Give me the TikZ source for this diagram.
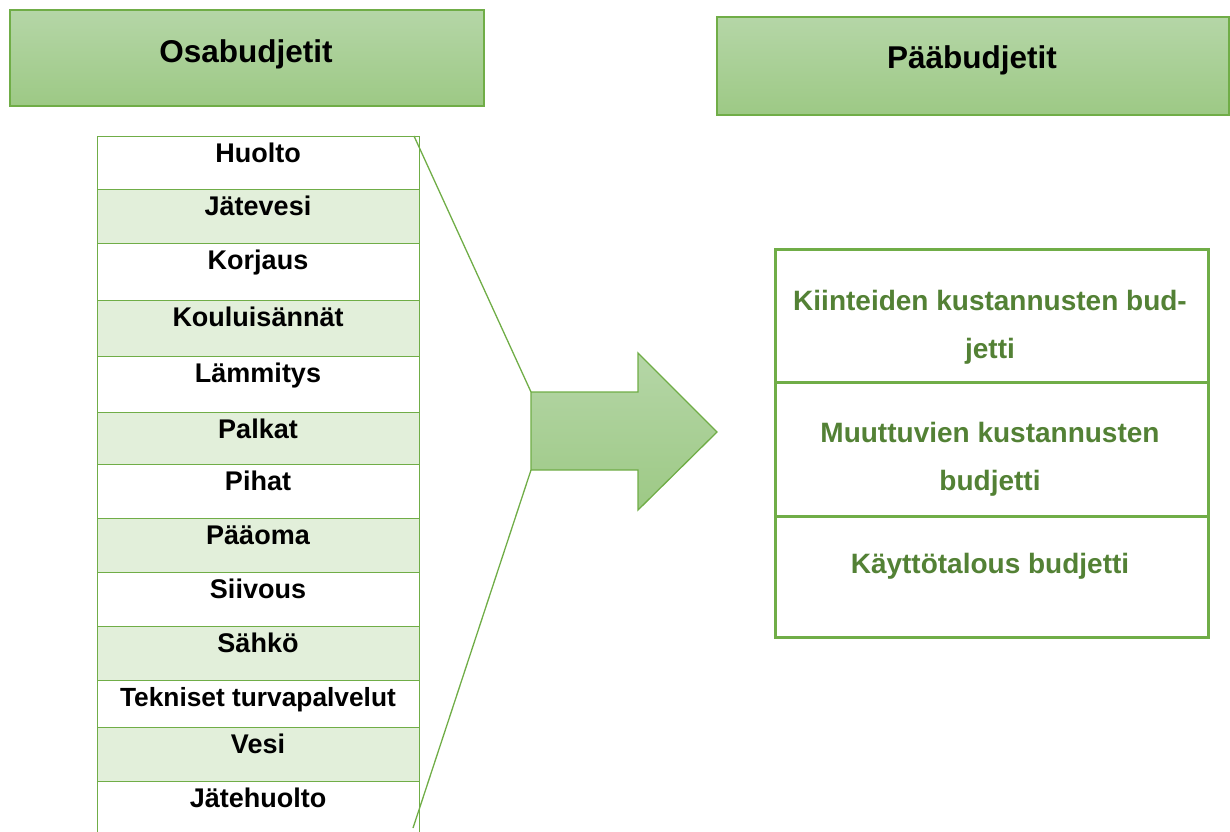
\documentclass[tikz,border=0pt]{standalone}
\usepackage{fontspec}
\setmainfont{Liberation Sans}
\definecolor{bord}{HTML}{70AD47}
\definecolor{rowg}{HTML}{E2EFDA}
\definecolor{htop}{HTML}{B5D6A7}
\definecolor{hbot}{HTML}{9DC985}
\definecolor{dgreen}{HTML}{538135}
\tikzset{
  header/.style={draw=bord, line width=1.5pt, top color=htop, bottom color=hbot, anchor=north west, inner sep=0pt},
  htext/.style={anchor=base, inner sep=0pt, font=\fontsize{31.5}{36}\selectfont\bfseries},
  rowbox/.style={draw=bord, line width=1.3pt, anchor=north west, minimum width=322pt, inner sep=0pt},
  rtext/.style={anchor=base, inner sep=0pt, font=\fontsize{27}{32}\selectfont\bfseries},
  cell/.style={draw=bord, line width=3.3pt, anchor=north west, minimum width=433pt, inner sep=0pt},
  ctext/.style={anchor=base, inner sep=0pt, text=dgreen, font=\fontsize{28}{32}\selectfont\bfseries},
  conn/.style={draw=bord, line width=1.3pt},
  bigarrow/.style={draw=bord, line width=1.3pt, top color=htop, bottom color=hbot}
}
\begin{document}
\begin{tikzpicture}[x=1pt,y=-1pt]
\useasboundingbox (0,0) rectangle (1230,831);
% headers
\node[header, minimum width=474pt, minimum height=96pt] (osa) at (9,9) {};
\node[htext] (osatxt) at (246,62) {Osabudjetit};
\node[header, minimum width=512pt, minimum height=98pt] (paa) at (716,16) {};
\node[htext] (paatxt) at (972,68) {Pääbudjetit};
% left table rows
\foreach \t/\b/\f/\txt/\s [count=\i] in {
  136/189/white/Huolto/27,
  189/243/rowg/Jätevesi/27,
  243/300/white/Korjaus/27,
  300/356/rowg/Kouluisännät/27,
  356/412/white/Lämmitys/27,
  412/464/rowg/Palkat/27,
  464/518/white/Pihat/27,
  518/572/rowg/Pääoma/27,
  572/626/white/Siivous/27,
  626/680/rowg/Sähkö/27,
  680/727/white/Tekniset turvapalvelut/26.3,
  727/781/rowg/Vesi/27,
  781/840/white/Jätehuolto/27}{
  \pgfmathsetmacro{\h}{\b-\t}
  \node[rowbox, fill=\f, minimum height=\h pt] (row\i) at (97,\t) {};
  \node[rtext, font=\fontsize{\s}{32}\selectfont\bfseries] (rowtxt\i) at (258,\t+26) {\txt};
}
% arrow
\coordinate (aTL) at (531,392);
\coordinate (aBL) at (531,470);
\coordinate (aTip) at (717,432);
\path[bigarrow] (aTL) -- (638,392) -- (638,353) -- (aTip) -- (638,510) -- (638,470) -- (aBL) -- cycle;
% connectors
\coordinate (tabTR) at (414,136);
\coordinate (tabBR) at (413,828);
\draw[conn] (tabTR) -- (aTL);
\draw[conn] (aBL) -- (tabBR);
% right table
\node[cell, minimum height=133pt] (c1) at (774,248) {};
\node[cell, minimum height=134pt] (c2) at (774,381) {};
\node[cell, minimum height=121pt] (c3) at (774,515) {};
\node[ctext] (c1a) at (990,310) {Kiinteiden kustannusten bud-};
\node[ctext] (c1b) at (990,358) {jetti};
\node[ctext] (c2a) at (990,442) {Muuttuvien kustannusten};
\node[ctext] (c2b) at (990,490) {budjetti};
\node[ctext] (c3a) at (990,573) {Käyttötalous budjetti};
\end{tikzpicture}
\end{document}
